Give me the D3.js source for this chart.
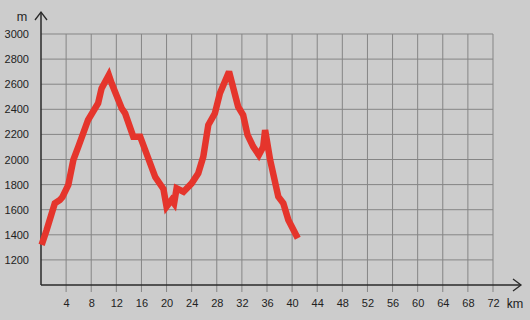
<!DOCTYPE html>
<html>
<head>
<meta charset="utf-8">
<script src="https://cdn.jsdelivr.net/npm/d3@7"></script>
<style>
  html, body { margin: 0; padding: 0; background: #cccccc; }
  svg { display: block; font-family: Roboto, "Noto Sans", sans-serif; }
</style>
</head>
<body>
<svg id="chart"></svg>
<script>
// elevation profile
const distKm = [0.1, 0.9, 2.2, 3.0, 3.4, 4.35, 5.15, 5.95, 7.5, 9.1, 9.65, 10.8, 11.25, 12.85, 13.4, 14.7, 15.8,
  18.2, 19.5, 20.0, 20.8, 21.2, 21.6, 22.7, 24.0, 25.05, 25.85, 26.65, 27.7, 28.5, 29.95, 31.4, 32.2, 32.9,
  33.8, 34.7, 35.4, 35.7, 36.5, 37.8, 38.6, 39.4, 40.9];
const elevM = [1320, 1438, 1651, 1677, 1700, 1797, 1996, 2102, 2315, 2448, 2567, 2673, 2607, 2408, 2368, 2182, 2182,
  1860, 1765, 1624, 1677, 1650, 1770, 1743, 1810, 1890, 2022, 2275, 2368, 2528, 2700, 2421, 2355, 2195,
  2102, 2036, 2102, 2235, 1996, 1704, 1651, 1518, 1372];
const xTicks = d3.range(4, 73, 4);
const yTicks = d3.range(1200, 3001, 200);

const width = 530, height = 320;
const svg = d3.select('#chart').attr('width', width).attr('height', height);

const x = d3.scaleLinear().domain([0, 72]).range([41, 493]);
const y = d3.scaleLinear().domain([1000, 3000]).range([285, 34]);

// grid
svg.append('g')
  .selectAll('line.v')
  .data(xTicks)
  .enter().append('line')
  .attr('x1', d => x(d)).attr('x2', d => x(d))
  .attr('y1', y(3000)).attr('y2', y(1000) + 7)
  .attr('stroke', '#858585').attr('stroke-width', 1);

svg.append('g')
  .selectAll('line.h')
  .data(yTicks)
  .enter().append('line')
  .attr('x1', x(0)).attr('x2', x(72))
  .attr('y1', d => y(d)).attr('y2', d => y(d))
  .attr('stroke', '#858585').attr('stroke-width', 1);

// x labels
svg.append('g')
  .attr('transform', `translate(0,${y(1000)})`)
  .call(d3.axisBottom(x).tickValues(xTicks).tickFormat(d3.format('d')).tickSize(0).tickPadding(14))
  .call(g => g.select('.domain').remove())
  .selectAll('text')
  .attr('fill', '#222').style('font-size', '11px');

// y labels
svg.append('g')
  .attr('transform', `translate(${x(0)},0)`)
  .call(d3.axisLeft(y).tickValues(yTicks).tickFormat(d3.format('d')).tickSize(0).tickPadding(12))
  .call(g => g.select('.domain').remove())
  .selectAll('text')
  .attr('fill', '#222').style('font-size', '11px');

// axes with arrows
const axisColor = '#2a2a2a';
svg.append('line')
  .attr('x1', x(0)).attr('x2', 521)
  .attr('y1', y(1000)).attr('y2', y(1000))
  .attr('stroke', axisColor).attr('stroke-width', 1.5);
svg.append('path')
  .attr('d', `M513,${y(1000) - 6}L521,${y(1000)}L513,${y(1000) + 6}`)
  .attr('fill', 'none').attr('stroke', axisColor).attr('stroke-width', 1.3);

svg.append('line')
  .attr('x1', x(0)).attr('x2', x(0))
  .attr('y1', y(1000)).attr('y2', 12)
  .attr('stroke', axisColor).attr('stroke-width', 1.5);
svg.append('path')
  .attr('d', `M${x(0) - 6},20L${x(0)},12L${x(0) + 6},20`)
  .attr('fill', 'none').attr('stroke', axisColor).attr('stroke-width', 1.3);

svg.append('text')
  .attr('x', 22).attr('y', 21)
  .attr('text-anchor', 'middle')
  .attr('fill', '#222').style('font-size', '12px')
  .text('m');
svg.append('text')
  .attr('x', 515).attr('y', 308)
  .attr('text-anchor', 'middle')
  .attr('fill', '#222').style('font-size', '12px')
  .text('km');

// profile line
const line = d3.line()
  .x((d, i) => x(distKm[i]))
  .y(d => y(d));

svg.append('path')
  .datum(elevM)
  .attr('d', line)
  .attr('fill', 'none')
  .attr('stroke', '#e5352c')
  .attr('stroke-width', 6.5)
  .attr('stroke-linejoin', 'miter')
  .attr('stroke-miterlimit', 3);
</script>
</body>
</html>
